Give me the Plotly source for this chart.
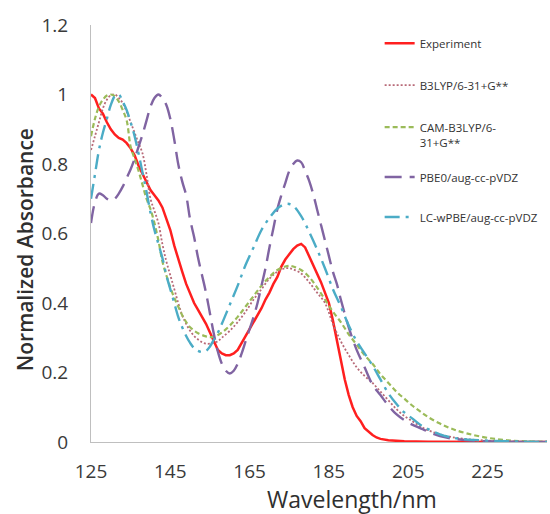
import plotly.graph_objects as go

# Wavelength grids (nm) and normalized absorbance for each spectrum
exp_wl = [125, 126, 127, 128, 129, 130, 131, 132, 133, 134, 135, 136, 137, 138, 139,
          140, 141, 142, 143, 144, 145, 146, 147, 148, 149, 150, 151, 152, 153, 154,
          155, 156, 157, 158, 159, 160, 161, 162, 163, 164, 165, 166, 167, 168, 169,
          170, 171, 172, 173, 174, 175, 176, 177, 178, 179, 180, 181, 182, 183, 184,
          185, 186, 187, 188, 189, 190, 191, 192, 193, 194, 195, 196, 197, 198, 200,
          204, 210, 220, 240]
exp_abs = [1.00, 0.99, 0.96, 0.945, 0.92, 0.90, 0.885, 0.875, 0.87, 0.86, 0.845, 0.825, 0.795, 0.77, 0.745,
           0.725, 0.71, 0.695, 0.675, 0.645, 0.61, 0.565, 0.525, 0.49, 0.455, 0.425, 0.40, 0.38, 0.36, 0.34,
           0.315, 0.29, 0.265, 0.255, 0.25, 0.25, 0.255, 0.265, 0.285, 0.305, 0.325, 0.345, 0.365, 0.385, 0.41,
           0.43, 0.455, 0.475, 0.505, 0.525, 0.54, 0.555, 0.565, 0.57, 0.56, 0.535, 0.51, 0.49, 0.46, 0.43,
           0.40, 0.35, 0.29, 0.24, 0.18, 0.135, 0.10, 0.075, 0.06, 0.04, 0.03, 0.02, 0.013, 0.009, 0.005,
           0.002, 0.001, 0.0, 0.0]

b3lyp_wl = [125, 126, 127, 128, 129, 130, 131, 132, 133, 134, 135, 136, 137, 138, 139,
            140, 141, 142, 143, 144, 145, 146, 147, 148, 149, 150, 151, 152, 153, 154,
            155, 156, 157, 158, 160, 162, 164, 166, 168, 170, 172, 174, 175, 176, 178,
            180, 182, 184, 186, 188, 190, 192, 194, 196, 198, 200, 202, 204, 206, 208,
            210, 213, 216, 220, 225, 230, 240]
b3lyp_abs = [0.84, 0.88, 0.92, 0.96, 0.985, 0.998, 1.0, 0.99, 0.975, 0.95, 0.92, 0.89, 0.86, 0.83, 0.77,
             0.70, 0.665, 0.63, 0.57, 0.52, 0.48, 0.44, 0.40, 0.365, 0.34, 0.32, 0.305, 0.295, 0.287, 0.283,
             0.283, 0.286, 0.29, 0.30, 0.32, 0.345, 0.375, 0.41, 0.44, 0.47, 0.49, 0.50, 0.50, 0.497, 0.485,
             0.46, 0.43, 0.40, 0.34, 0.29, 0.25, 0.215, 0.19, 0.17, 0.145, 0.12, 0.095, 0.075, 0.06, 0.045,
             0.034, 0.022, 0.014, 0.008, 0.004, 0.002, 0.0]

cam_wl = [125, 126, 127, 128, 129, 130, 131, 132, 133, 134, 135, 136, 137, 138, 139,
          140, 141, 142, 143, 144, 145, 146, 147, 148, 149, 150, 152, 154, 155, 156,
          158, 160, 162, 164, 166, 168, 170, 172, 174, 175, 176, 178, 180, 182, 184,
          186, 188, 190, 192, 194, 196, 198, 200, 202, 204, 206, 208, 210, 213, 216,
          220, 225, 230, 235, 240]
cam_abs = [0.88, 0.93, 0.965, 0.985, 0.997, 1.0, 0.995, 0.98, 0.955, 0.925, 0.85, 0.815, 0.78, 0.74, 0.70,
           0.67, 0.63, 0.58, 0.52, 0.48, 0.445, 0.415, 0.39, 0.365, 0.345, 0.33, 0.313, 0.304, 0.302, 0.303,
           0.315, 0.335, 0.36, 0.39, 0.42, 0.45, 0.475, 0.495, 0.505, 0.507, 0.505, 0.495, 0.475, 0.445, 0.41,
           0.375, 0.345, 0.31, 0.28, 0.25, 0.225, 0.195, 0.17, 0.145, 0.125, 0.105, 0.088, 0.072, 0.053, 0.038,
           0.024, 0.012, 0.005, 0.002, 0.001]

pbe0_wl = [125, 126, 127, 128, 129, 130, 131, 132, 133, 134, 135, 136, 137, 138, 139,
           140, 141, 142, 143, 144, 145, 146, 147, 148, 149, 150, 151, 152, 153, 154,
           155, 156, 157, 158, 159, 160, 161, 162, 163, 164, 165, 166, 167, 168, 169,
           170, 171, 172, 173, 174, 175, 176, 177, 178, 179, 180, 181, 182, 183, 184,
           185, 186, 187, 188, 190, 192, 194, 196, 198, 200, 202, 204, 206, 208, 210,
           213, 216, 220, 225, 240]
pbe0_abs = [0.63, 0.69, 0.715, 0.71, 0.70, 0.695, 0.70, 0.715, 0.735, 0.76, 0.785, 0.815, 0.85, 0.885, 0.925,
            0.965, 0.99, 1.0, 0.99, 0.97, 0.93, 0.87, 0.80, 0.75, 0.71, 0.64, 0.59, 0.53, 0.48, 0.43,
            0.37, 0.31, 0.26, 0.225, 0.205, 0.197, 0.205, 0.225, 0.255, 0.29, 0.325, 0.36, 0.40, 0.45, 0.50,
            0.56, 0.615, 0.67, 0.71, 0.745, 0.78, 0.80, 0.81, 0.805, 0.78, 0.752, 0.715, 0.67, 0.625, 0.58,
            0.535, 0.49, 0.455, 0.41, 0.33, 0.265, 0.215, 0.165, 0.135, 0.105, 0.08, 0.063, 0.05, 0.04, 0.03,
            0.017, 0.01, 0.005, 0.002, 0.0]

lcwpbe_wl = [125, 126, 127, 128, 129, 130, 131, 132, 133, 134, 135, 136, 137, 138, 139,
             140, 141, 142, 143, 144, 145, 146, 147, 148, 149, 150, 151, 152, 153, 154,
             155, 156, 157, 158, 160, 162, 164, 166, 168, 170, 172, 174, 175, 176, 178,
             180, 182, 184, 186, 188, 190, 192, 194, 196, 198, 200, 202, 204, 206, 208,
             210, 213, 216, 220, 225, 230, 240]
lcwpbe_abs = [0.70, 0.77, 0.84, 0.89, 0.93, 0.97, 0.995, 1.0, 0.98, 0.955, 0.92, 0.88, 0.83, 0.775, 0.72,
              0.66, 0.61, 0.57, 0.53, 0.48, 0.44, 0.40, 0.36, 0.33, 0.305, 0.285, 0.27, 0.262, 0.259, 0.262,
              0.275, 0.295, 0.315, 0.34, 0.395, 0.45, 0.51, 0.56, 0.61, 0.645, 0.672, 0.685, 0.685, 0.68, 0.65,
              0.605, 0.555, 0.50, 0.44, 0.39, 0.335, 0.29, 0.255, 0.22, 0.18, 0.14, 0.11, 0.085, 0.068, 0.05,
              0.037, 0.022, 0.013, 0.007, 0.004, 0.002, 0.0]

x_ticks = [125, 145, 165, 185, 205, 225]
y_ticks = [0, 0.2, 0.4, 0.6, 0.8, 1.0, 1.2]
y_tick_text = ["0", "0.2", "0.4", "0.6", "0.8", "1", "1.2"]

# name, x, y, colour, dash, width, shape, legend box
series = [
    ("Experiment", exp_wl, exp_abs, "#ff1f1f", "solid", 2.5, "linear", "legend"),
    ("B3LYP/6-31+G**", b3lyp_wl, b3lyp_abs, "#b86a78", "2px,2px", 1.8, "spline", "legend"),
    ("CAM-B3LYP/6-<br>31+G**", cam_wl, cam_abs, "#9bbb59", "5px,3px", 2.2, "spline", "legend"),
    ("PBE0/aug-cc-pVDZ", pbe0_wl, pbe0_abs, "#8064a2", "17px,8px", 2.4, "spline", "legend2"),
    ("LC-wPBE/aug-cc-pVDZ", lcwpbe_wl, lcwpbe_abs, "#4bacc6", "15px,6px,3px,6px", 2.4, "spline", "legend2"),
]

fig = go.Figure()
for i, (name, xs, ys, color, dash, width, shape, leg) in enumerate(series):
    fig.add_trace(go.Scatter(
        x=xs, y=ys, mode="lines", name=name, legendgroup=f"g{i}", legend=leg,
        line=dict(color=color, dash=dash, width=width, shape=shape),
    ))

font_main = "Open Sans, Lato, sans-serif"
legend_style = dict(
    xanchor="left", yanchor="top", font=dict(size=11.5, color="#333333"),
    valign="top", bgcolor="rgba(0,0,0,0)",
)
fig.update_layout(
    width=550, height=514,
    margin=dict(l=91, r=3, t=25, b=72),
    paper_bgcolor="white", plot_bgcolor="white",
    font=dict(family=font_main, color="#3a3a3a"),
    showlegend=True,
    legend=dict(x=0.633, y=0.99, tracegroupgap=23, **legend_style),
    legend2=dict(x=0.633, y=0.669, tracegroupgap=21, **legend_style),
    xaxis=dict(
        range=[125, 240], tickvals=x_ticks, showgrid=False, zeroline=False,
        showline=True, linecolor="#bfbfbf", linewidth=1, ticks="",
        tickfont=dict(size=19, color="#3a3a3a"), ticklabelstandoff=12,
    ),
    yaxis=dict(
        range=[0, 1.2], tickvals=y_ticks, ticktext=y_tick_text, showgrid=False,
        zeroline=False, showline=True, linecolor="#bfbfbf", linewidth=1, ticks="",
        tickfont=dict(size=19, color="#3a3a3a"), ticklabelstandoff=18,
    ),
    annotations=[
        dict(text="Wavelength/nm", xref="paper", yref="paper", x=0.572, y=0,
             yshift=-57, xanchor="center", yanchor="middle", showarrow=False,
             font=dict(size=23, color="#2f2f2f")),
        dict(text="Normalized Absorbance", xref="paper", yref="paper", x=0, y=0.46,
             xshift=-66, xanchor="center", yanchor="middle", showarrow=False,
             textangle=-90, font=dict(size=21, color="#2f2f2f", weight=600)),
    ],
)

fig.write_html("out.html")
